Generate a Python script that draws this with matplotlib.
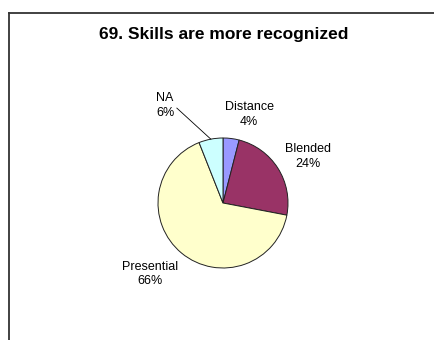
import numpy as np
import matplotlib
matplotlib.use("Agg")
import matplotlib.pyplot as plt
from matplotlib.lines import Line2D

# data
categories = ["Distance", "Blended", "Presential", "NA"]
shares = [4, 24, 66, 6]
colors = ["#9999FF", "#993366", "#FFFFCC", "#CCFFFF"]
title = "69. Skills are more recognized"

# label positions in pie-radius units (Excel style placement)
label_pos = [(0.40, 1.36), (1.31, 0.71), (-1.12, -1.09), (-0.89, 1.50)]

plt.rcParams["font.family"] = ["Liberation Sans", "DejaVu Sans"]

W, H = 434, 340
fig = plt.figure(figsize=(W / 100, H / 100), dpi=100)
fig.patch.set_facecolor("white")

# chart area frame (left and top edges visible)
fig.add_artist(Line2D([9 / W, 9 / W], [0, 1 - 13 / H], transform=fig.transFigure,
                      color="#333333", lw=1.3))
fig.add_artist(Line2D([9 / W, 1], [1 - 13 / H, 1 - 13 / H], transform=fig.transFigure,
                      color="#333333", lw=1.3))

fig.text(224 / W, 1 - 35 / H, title, ha="center", va="center",
         fontsize=12.5, fontweight="bold")

cx, cy, r = 223, 203, 65
ax = fig.add_axes([(cx - r) / W, (H - cy - r) / H, 2 * r / W, 2 * r / H])
wedges, _ = ax.pie(shares, colors=colors, startangle=90, counterclock=False,
                   radius=1, wedgeprops=dict(edgecolor="#222222", linewidth=0.7))
ax.set_xlim(-1, 1)
ax.set_ylim(-1, 1)
ax.set_aspect("equal")
ax.axis("off")

for (name, val, (lx, ly)) in zip(categories, shares, label_pos):
    ax.text(lx, ly, f"{name}\n{val}%", ha="center", va="center", fontsize=9,
            linespacing=1.3, clip_on=False)

# leader line for the NA slice
na = wedges[3]
ang = np.deg2rad((na.theta1 + na.theta2) / 2)
ax.plot([-0.71, np.cos(ang)], [1.46, np.sin(ang)], color="black", lw=0.6,
        clip_on=False)

fig.savefig("out.png", dpi=100)
